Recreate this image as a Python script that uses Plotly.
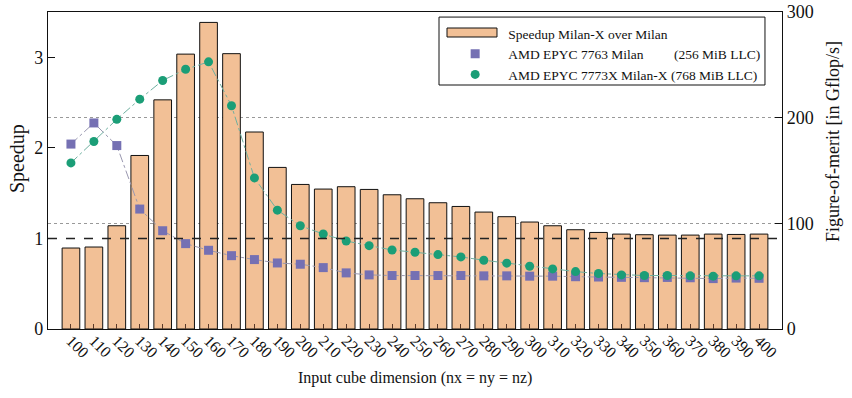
import plotly.graph_objects as go

dims = [str(d) for d in range(100, 401, 10)]
speedup = [0.894, 0.905, 1.14, 1.916, 2.53, 3.035, 3.385, 3.04, 2.175, 1.784,
           1.596, 1.545, 1.571, 1.541, 1.482, 1.438, 1.394, 1.353, 1.291, 1.240,
           1.181, 1.14, 1.096, 1.066, 1.048, 1.041, 1.037, 1.037, 1.048, 1.044, 1.048]
milan = [175, 195, 173.6, 113.5, 93, 80.8, 74.5, 69.4, 65.7, 62.5,
         61.3, 58.1, 53.1, 51.2, 50.6, 50.6, 50.6, 50.6, 50.3, 50.3,
         50, 50, 49.5, 49.2, 48.9, 48.6, 48.8, 48.5, 47.7, 48.2, 48]
milanx = [157.2, 177.4, 198.4, 217.5, 235.2, 245.8, 252.8, 211.3, 143, 112.5,
          97.7, 89.9, 83.3, 78.9, 74.8, 72.6, 70.4, 68.2, 65.1, 62.3,
          59.4, 56.9, 54.3, 52.5, 51.2, 50.6, 50.6, 50.3, 50, 50.3, 50.3]

NB = "\u00a0"
FONT = "Liberation Serif"
BAR_NAME = "Speedup Milan-X over Milan"
MILAN_NAME = "AMD EPYC 7763 Milan" + NB * 9 + "(256 MiB LLC)"
MILANX_NAME = "AMD EPYC 7773X Milan-X (768 MiB LLC)"
BAR_COLOR = "#f2c096"

fig = go.Figure()
fig.add_trace(go.Bar(
    x=dims, y=speedup, name=BAR_NAME, showlegend=False,
    marker=dict(color=BAR_COLOR, line=dict(color="#111111", width=1)),
    width=0.77, yaxis="y",
))
fig.add_trace(go.Scatter(
    x=dims, y=milan, yaxis="y2", mode="lines+markers", showlegend=False,
    marker=dict(symbol="square", size=9, color="#7570b3"),
    line=dict(color="#9a98b0", width=1, dash="dashdot"),
))
fig.add_trace(go.Scatter(
    x=dims, y=milanx, yaxis="y2", mode="lines+markers", showlegend=False,
    marker=dict(symbol="circle", size=9, color="#1b9e77"),
    line=dict(color="#6fb0a0", width=1, dash="dashdot"),
))
# legend-only entries
fig.add_trace(go.Scatter(
    x=[None], y=[None], mode="markers", name=BAR_NAME,
    marker=dict(symbol="square", size=9, color="rgba(0,0,0,0)"),
))
fig.add_trace(go.Scatter(
    x=[None], y=[None], yaxis="y2", mode="markers", name=MILAN_NAME,
    marker=dict(symbol="square", size=9, color="#7570b3"),
))
fig.add_trace(go.Scatter(
    x=[None], y=[None], yaxis="y2", mode="markers", name=MILANX_NAME,
    marker=dict(symbol="circle", size=9, color="#1b9e77"),
))

# reference line at speedup = 1
fig.add_shape(type="line", xref="paper", x0=0, x1=1, yref="y", y0=1, y1=1,
              line=dict(color="#222222", width=1.5, dash="dash"), layer="above")
# legend frame
fig.add_shape(type="rect", xref="paper", yref="paper",
              x0=0.5327, x1=0.9768, y0=0.7697, y1=0.984,
              line=dict(color="#111111", width=1), fillcolor="white", layer="below")
# wide bar swatch in legend
fig.add_shape(type="rect", xref="paper", yref="paper",
              x0=0.5436, x1=0.6117, y0=0.9211, y1=0.9495,
              line=dict(color="#111111", width=1), fillcolor=BAR_COLOR, layer="above")

# axis titles as annotations for exact placement
fig.add_annotation(text="Speedup", xref="paper", yref="paper", x=-0.0422, y=0.536,
                   textangle=-90, showarrow=False, font=dict(family=FONT, size=20),
                   xanchor="center", yanchor="middle")
fig.add_annotation(text="Figure-of-merit [in Gflop/s]", xref="paper", yref="paper",
                   x=1.0695, y=0.59, textangle=-90, showarrow=False,
                   font=dict(family=FONT, size=18), xanchor="center", yanchor="middle")
fig.add_annotation(text="Input cube dimension (nx = ny = nz)", xref="paper", yref="paper",
                   x=0.5, y=-0.155, showarrow=False, font=dict(family=FONT, size=16),
                   xanchor="center", yanchor="middle")

fig.update_layout(
    width=852, height=398,
    margin=dict(l=48, r=70, t=12, b=69, autoexpand=False),
    paper_bgcolor="white", plot_bgcolor="white",
    font=dict(family=FONT, color="#111111", size=16),
    showlegend=True,
    legend=dict(x=0.537, y=0.981, xanchor="left", yanchor="top",
                borderwidth=0, bgcolor="rgba(0,0,0,0)",
                font=dict(family=FONT, size=13.5), tracegroupgap=0,
                itemwidth=56),
    xaxis=dict(
        type="category", range=[-1, 31], tickangle=45, automargin=False,
        ticks="inside", ticklen=5, tickcolor="#5a3a2a", ticklabelstandoff=-5,
        showline=True, linecolor="#111111", linewidth=1.2, mirror=True,
        showgrid=False, tickfont=dict(size=16),
    ),
    yaxis=dict(
        range=[0, 3.5], tickvals=[0, 1, 2, 3], automargin=False,
        ticks="inside", ticklen=7, tickcolor="#111111",
        showline=True, linecolor="#111111", linewidth=1.2,
        showgrid=False, zeroline=False, tickfont=dict(size=18),
    ),
    yaxis2=dict(
        overlaying="y", side="right", range=[0, 300], tickvals=[0, 100, 200, 300],
        automargin=False,
        ticks="inside", ticklen=7, tickcolor="#111111",
        showline=True, linecolor="#111111", linewidth=1.2,
        showgrid=True, gridcolor="#999999", griddash="dot", gridwidth=1,
        zeroline=False, tickfont=dict(size=18),
    ),
)

fig.write_html("out.html", config={"displayModeBar": False},
               post_script="document.body.style.margin='0';document.body.style.padding='0';")
